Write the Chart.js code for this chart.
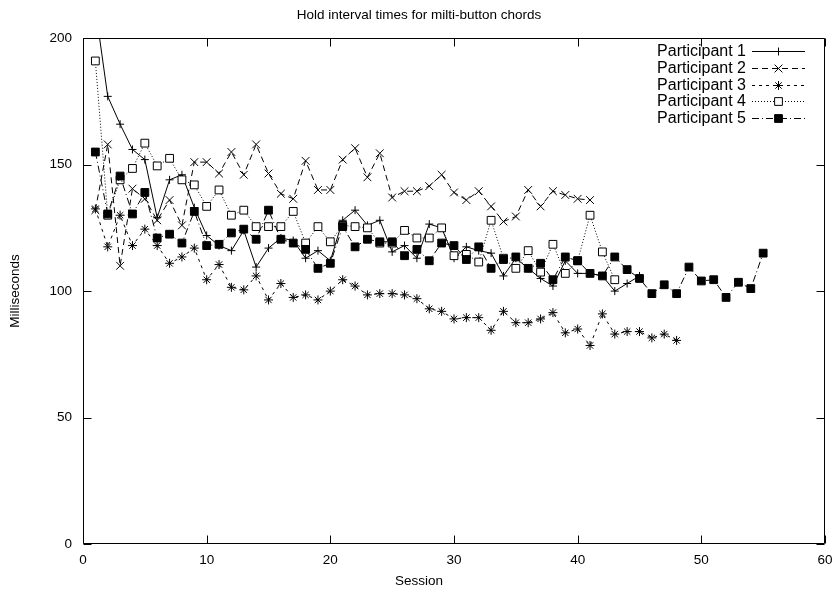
<!DOCTYPE html>
<html>
<head>
<meta charset="utf-8">
<title>Hold interval times</title>
<script src="https://cdn.jsdelivr.net/npm/chart.js@4.4.1/dist/chart.umd.min.js"></script>
<style>
  html, body { margin: 0; padding: 0; background: #fff; }
</style>
</head>
<body>
<canvas id="chart" width="838" height="594"></canvas>
<script>
// Session numbers (x) and the mean hold time per participant (ms)
const sessions = [1, 2, 3, 4, 5, 6, 7, 8, 9, 10, 11, 12, 13, 14, 15, 16, 17, 18, 19, 20,
  21, 22, 23, 24, 25, 26, 27, 28, 29, 30, 31, 32, 33, 34, 35, 36, 37, 38, 39, 40,
  41, 42, 43, 44, 45, 46, 47, 48, 49, 50, 51, 52, 53, 54, 55];

const participant1 = [212, 177, 166, 156, 152, 129, 144, 146, 133, 122, 118, 116, 124, 109.5, 117,
  121, 120, 113, 116, 112, 128, 132, 126, 128, 115.5, 118, 113, 126.5, 125, 113,
  117.5, 116, 115, 106, 113, 109, 105, 102, 112, 107, 107, 106, 100, 103, 106];
const participant2 = [132, 158, 110, 140.5, 136.5, 128, 136, 126, 151, 151, 146.5, 155, 146, 158, 146.5,
  138.5, 136.5, 151.5, 140, 140, 152, 156.5, 145, 154.5, 137, 139.5, 139.5, 141.5, 146, 139,
  136, 139.5, 133.5, 127.5, 129.5, 140, 133.5, 139.5, 138, 136.5, 136];
const participant3 = [132.5, 117.5, 130, 118, 124.5, 118, 111, 113.5, 117, 104.5, 110.5, 101.5, 100.5, 106, 96.5,
  103, 97.5, 98.5, 96.5, 100, 104.5, 102, 98.5, 99, 99, 98.5, 97, 93, 92, 89,
  89.5, 89.5, 84.5, 92, 87.5, 87.5, 89, 91.5, 83.5, 85, 78.5, 91, 83, 84, 84,
  81.5, 83, 80.5];
const participant4 = [191, 130, 144, 148.5, 158.5, 149.5, 152.5, 144, 142, 133.5, 140, 130, 132, 125.5, 125.5,
  125.5, 131.5, 119, 125.5, 119.5, 126, 125.5, 125, 119, 119, 124, 121, 121, 125, 114,
  114.5, 111.5, 128, 113, 109, 116, 107.5, 118.5, 107, 112, 130, 115.5, 104.5];
const participant5 = [155, 130.5, 145.5, 130.5, 139, 121, 122.5, 119, 131.5, 118, 118.5, 123, 124.5, 120.5, 132,
  120.5, 119, 116.5, 109, 111, 125.5, 117.5, 120.5, 119.5, 119.5, 114, 116.5, 112, 119, 118,
  112.5, 117.5, 109, 112.5, 113.5, 109, 111, 104.5, 113.5, 112, 107, 106, 113.5, 108.5, 105,
  99, 102.5, 99, 109.5, 104, 104.5, 97.5, 103.5, 101, 115];

const labels = ['Participant 1', 'Participant 2', 'Participant 3', 'Participant 4', 'Participant 5'];
const xTicks = [0, 10, 20, 30, 40, 50, 60];
const yTicks = [0, 50, 100, 150, 200];

function toPoints(values) {
  return values.map((v, i) => ({ x: sessions[i], y: v }));
}

// gnuplot style frame: full border and inward tick marks on all four sides
const framePlugin = {
  id: 'frame',
  afterDatasetsDraw(chart) {
    const { ctx, chartArea: a, scales: { x, y } } = chart;
    const L = Math.round(a.left) + 0.5, R = Math.round(a.right) - 0.5;
    const T = Math.round(a.top) + 0.5, B = Math.round(a.bottom) - 0.5;
    ctx.save();
    ctx.strokeStyle = '#000';
    ctx.lineWidth = 1;
    ctx.beginPath();
    x.ticks.forEach(t => {
      const px = Math.round(x.getPixelForValue(t.value)) + 0.5;
      ctx.moveTo(px, B); ctx.lineTo(px, B - 8);
      ctx.moveTo(px, T); ctx.lineTo(px, T + 8);
    });
    y.ticks.forEach(t => {
      const py = Math.round(y.getPixelForValue(t.value)) + 0.5;
      ctx.moveTo(L, py); ctx.lineTo(L + 8, py);
      ctx.moveTo(R, py); ctx.lineTo(R - 8, py);
    });
    ctx.rect(L, T, R - L, B - T);
    ctx.stroke();
    ctx.restore();
  }
};

// key in the top right corner: label, then a line sample with its marker
const keyPlugin = {
  id: 'key',
  afterDatasetsDraw(chart) {
    const { ctx, chartArea: a } = chart;
    ctx.save();
    ctx.font = '16px "Liberation Sans"';
    ctx.textAlign = 'right';
    ctx.textBaseline = 'middle';
    ctx.lineWidth = 1;
    chart.data.datasets.forEach((ds, i) => {
      const yy = Math.round(a.top + 13 + i * 16.7) + 0.5;
      ctx.fillStyle = '#000';
      ctx.fillText(ds.label, a.right - 79, yy);
      ctx.strokeStyle = '#000';
      ctx.setLineDash(ds.borderDash || []);
      ctx.beginPath();
      ctx.moveTo(a.right - 73, yy);
      ctx.lineTo(a.right - 20, yy);
      ctx.stroke();
      ctx.setLineDash([]);
      ctx.fillStyle = ds.pointBackgroundColor;
      Chart.helpers.drawPoint(ctx, {
        pointStyle: ds.pointStyle, radius: ds.pointRadius, borderWidth: 1, rotation: 0
      }, a.right - 46.5, yy);
    });
    ctx.restore();
  }
};

Chart.defaults.font.family = '"Liberation Sans", Arial, sans-serif';
Chart.defaults.font.size = 13.5;
Chart.defaults.color = '#000';

const styles = [
  { dash: [], point: 'cross', r: 4, fill: '#000' },
  { dash: [6, 4], point: 'crossRot', r: 5.5, fill: '#000' },
  { dash: [3, 4], point: 'star', r: 4.5, fill: '#000' },
  { dash: [1, 2], point: 'rect', r: 5.5, fill: '#fff' },
  { dash: [7, 3, 1, 3], point: 'rect', r: 5.5, fill: '#000' }
];
const series = [participant1, participant2, participant3, participant4, participant5];

const datasets = series.map((values, i) => ({
  label: labels[i],
  data: toPoints(values),
  borderColor: '#000',
  borderWidth: 1,
  borderDash: styles[i].dash,
  pointStyle: styles[i].point,
  pointRadius: styles[i].r,
  pointHoverRadius: styles[i].r,
  pointBorderColor: '#000',
  pointBorderWidth: 1,
  pointBackgroundColor: styles[i].fill,
  tension: 0,
  fill: false,
  order: series.length - i
}));

new Chart(document.getElementById('chart'), {
  type: 'line',
  data: { datasets },
  options: {
    responsive: false,
    animation: false,
    layout: { padding: 0 },
    plugins: {
      legend: { display: false },
      tooltip: { enabled: false },
      title: {
        display: true,
        text: 'Hold interval times for milti-button chords',
        font: { weight: 'normal' },
        padding: { top: 7, bottom: 15 }
      },
      // x axis label, centred on the whole picture as in the original
      subtitle: {
        display: true,
        position: 'bottom',
        text: 'Session',
        padding: { top: 0, bottom: 5 }
      }
    },
    scales: {
      x: {
        type: 'linear',
        min: 0,
        max: 60,
        afterBuildTicks: s => { s.ticks = xTicks.map(v => ({ value: v })); },
        afterFit: s => { s.height = 28.8; s.paddingRight = 13; },
        grid: { display: false, drawTicks: false },
        border: { display: false },
        ticks: { padding: 8, maxRotation: 0 }
      },
      y: {
        min: 0,
        max: 200,
        afterBuildTicks: s => { s.ticks = yTicks.map(v => ({ value: v })); },
        afterFit: s => { s.width = 83; },
        grid: { display: false, drawTicks: false },
        border: { display: false },
        ticks: { padding: 11 },
        title: { display: true, text: 'Milliseconds', padding: { top: 7, bottom: 0 } }
      }
    }
  },
  plugins: [framePlugin, keyPlugin]
});
</script>
</body>
</html>
